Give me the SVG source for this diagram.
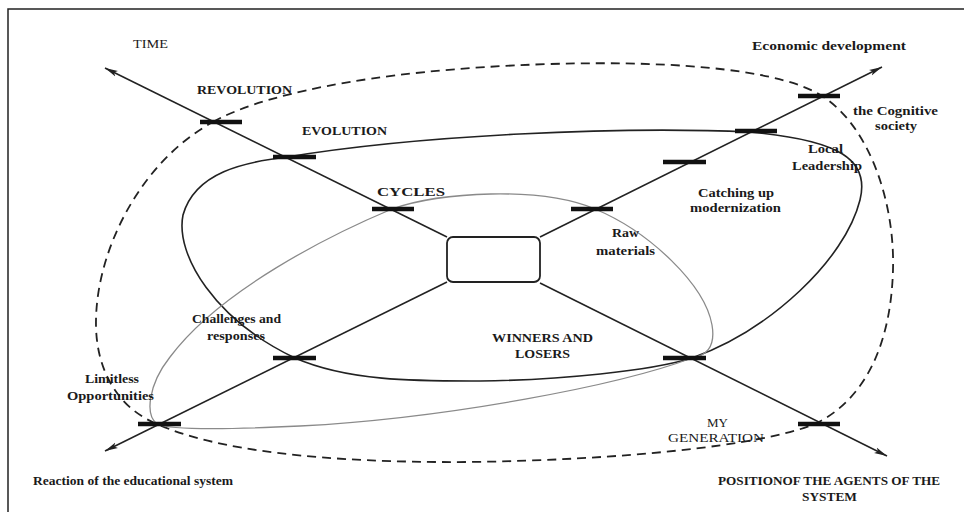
<svg xmlns="http://www.w3.org/2000/svg" width="964" height="512" viewBox="0 0 964 512">
<style>
.frame{fill:none;stroke:#222;stroke-width:1.5}
.axis{fill:none;stroke:#222;stroke-width:1.6}
.tick{stroke:#111;stroke-width:4.5}
.solid{fill:none;stroke:#222;stroke-width:1.6}
.dashed{fill:none;stroke:#222;stroke-width:1.8;stroke-dasharray:9 6}
.gray{fill:none;stroke:#8a8a8a;stroke-width:1.3}
.box{fill:#fff;stroke:#222;stroke-width:1.8}
text{font-family:"Liberation Serif","Times New Roman",serif;font-size:13.5px;fill:#1a1a1a;font-weight:bold}
.n{font-weight:normal}
</style>
<defs>
<marker id="arr" markerUnits="userSpaceOnUse" markerWidth="14" markerHeight="8" refX="13" refY="4" orient="auto">
<path d="M0,1 L13,4 L0,7 L3,4 z" fill="#222"/>
</marker>
</defs>
<rect width="964" height="512" fill="#fff"/>
<path class="frame" d="M8,512 V9 H964"/>

<g id="loops">
<path class="dashed" d="M213,122 C255,98 360,70 550,64 C690,60 785,72 822,96 C868,125 895,200 893,270 C891,340 868,398 815,424 C760,446 620,460 470,462 C320,463 215,450 157,424 C118,408 95,370 96,320 C97,250 140,162 213,122 Z"/>
<path class="solid" d="M287,157 C245,162 195,172 183,215 C175,255 215,320 295,358 C350,382 420,381 480,381 C560,380 650,371 692,358 C770,330 845,260 860,200 C870,160 840,140 750,132 C620,126 420,135 287,157 Z"/>
<path class="gray" d="M392,209 C440,192 540,186 595,209 C650,232 705,285 712,325 C716,348 705,356 692,358 C620,385 450,418 300,426 C220,430 170,430 157,424 C145,415 148,385 170,357 C220,290 330,235 392,209 Z"/>
</g>

<g id="connectors">
<path class="axis" d="M447,237 L105,68" marker-end="url(#arr)"/>
<path class="axis" d="M540,283 L887,456" marker-end="url(#arr)"/>
<path class="axis" d="M540,237 L882,67" marker-end="url(#arr)"/>
<path class="axis" d="M447,282 L105,451" marker-end="url(#arr)"/>
</g>

<g id="ticks">
<line class="tick" x1="200" y1="122" x2="242" y2="122"/>
<line class="tick" x1="273" y1="157" x2="316" y2="157"/>
<line class="tick" x1="372" y1="209" x2="414" y2="209"/>
<line class="tick" x1="663" y1="358" x2="706" y2="358"/>
<line class="tick" x1="798" y1="424" x2="840" y2="424"/>
<line class="tick" x1="798" y1="96" x2="840" y2="96"/>
<line class="tick" x1="735" y1="131" x2="777" y2="131"/>
<line class="tick" x1="663" y1="162" x2="706" y2="162"/>
<line class="tick" x1="571" y1="209" x2="613" y2="209"/>
<line class="tick" x1="273" y1="358" x2="316" y2="358"/>
<line class="tick" x1="138" y1="424" x2="181" y2="424"/>
</g>

<g id="center">
<rect class="box" x="447" y="237" width="93" height="45" rx="6"/>
</g>

<g id="label-time"><text class="n" x="133" y="48" textLength="35" lengthAdjust="spacingAndGlyphs">TIME</text></g>
<g id="label-econ"><text x="752" y="50" textLength="154" lengthAdjust="spacingAndGlyphs">Economic development</text></g>
<g id="label-revolution"><text x="197" y="94" textLength="95" lengthAdjust="spacingAndGlyphs">REVOLUTION</text></g>
<g id="label-evolution"><text x="302" y="135" textLength="85" lengthAdjust="spacingAndGlyphs">EVOLUTION</text></g>
<g id="label-cycles"><text x="377" y="196" textLength="68" lengthAdjust="spacingAndGlyphs">CYCLES</text></g>
<g id="label-cognitive">
<text x="853" y="115" textLength="85" lengthAdjust="spacingAndGlyphs">the Cognitive</text>
<text x="875" y="130" textLength="42" lengthAdjust="spacingAndGlyphs">society</text>
</g>
<g id="label-local">
<text x="808" y="153" textLength="35" lengthAdjust="spacingAndGlyphs">Local</text>
<text x="792" y="170" textLength="70" lengthAdjust="spacingAndGlyphs">Leadership</text>
</g>
<g id="label-catching">
<text x="698" y="197" textLength="76" lengthAdjust="spacingAndGlyphs">Catching up</text>
<text x="690" y="212" textLength="91" lengthAdjust="spacingAndGlyphs">modernization</text>
</g>
<g id="label-raw">
<text x="612" y="237" textLength="27" lengthAdjust="spacingAndGlyphs">Raw</text>
<text x="596" y="255" textLength="59" lengthAdjust="spacingAndGlyphs">materials</text>
</g>
<g id="label-winners">
<text x="492" y="342" textLength="101" lengthAdjust="spacingAndGlyphs">WINNERS AND</text>
<text x="515" y="358" textLength="55" lengthAdjust="spacingAndGlyphs">LOSERS</text>
</g>
<g id="label-challenges">
<text x="192" y="323" textLength="89" lengthAdjust="spacingAndGlyphs">Challenges and</text>
<text x="207" y="340" textLength="58" lengthAdjust="spacingAndGlyphs">responses</text>
</g>
<g id="label-limitless">
<text x="85" y="383" textLength="54" lengthAdjust="spacingAndGlyphs">Limitless</text>
<text x="67" y="400" textLength="87" lengthAdjust="spacingAndGlyphs">Opportunities</text>
</g>
<g id="label-reaction"><text x="33" y="485" textLength="200" lengthAdjust="spacingAndGlyphs">Reaction of the educational system</text></g>
<g id="label-generation">
<text class="n" x="707" y="427" textLength="21" lengthAdjust="spacingAndGlyphs">MY</text>
<text class="n" x="668" y="442" textLength="96" lengthAdjust="spacingAndGlyphs">GENERATION</text>
</g>
<g id="label-position">
<text x="718" y="485" textLength="222" lengthAdjust="spacingAndGlyphs">POSITIONOF THE AGENTS OF THE</text>
<text x="802" y="501" textLength="55" lengthAdjust="spacingAndGlyphs">SYSTEM</text>
</g>
</svg>
